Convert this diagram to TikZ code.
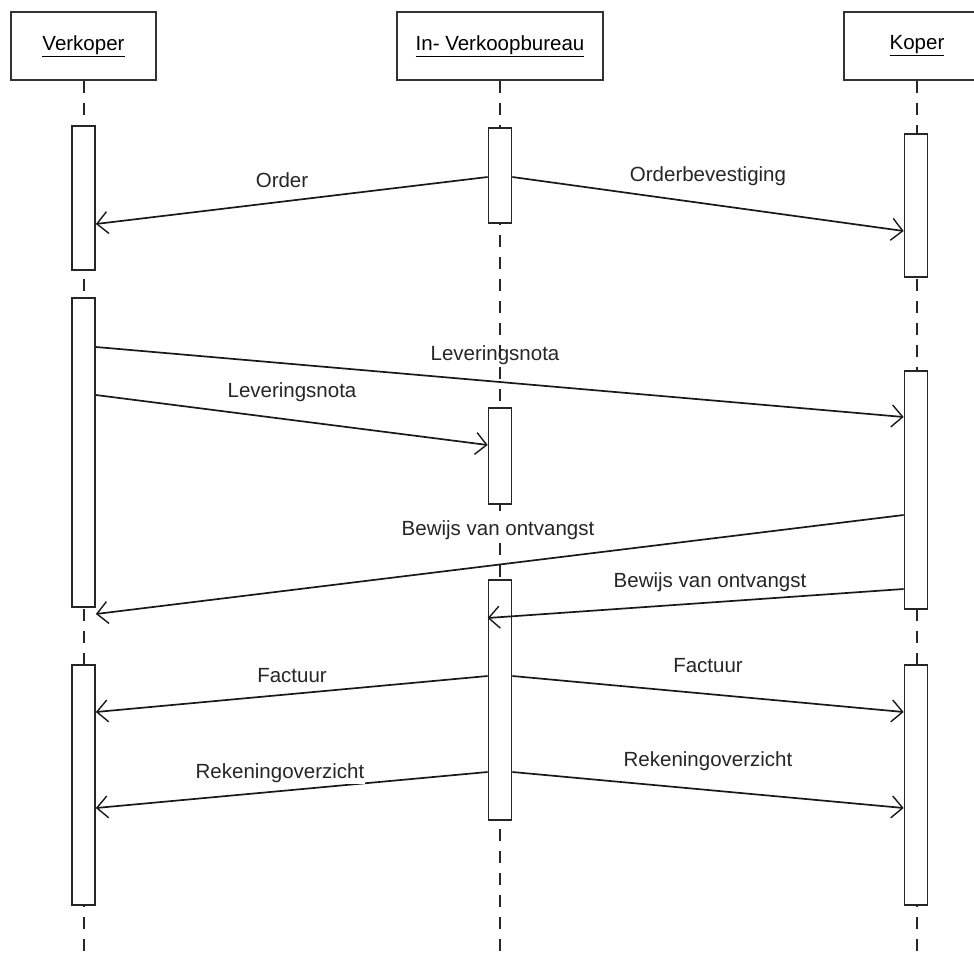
\documentclass[tikz,border=0pt]{standalone}
\usepackage{fontspec}
\setmainfont{Liberation Sans}
\usetikzlibrary{arrows.meta}
\begin{document}
\begin{tikzpicture}[x=1pt,y=-1pt,
  head/.style={draw=black!80, line width=2.2pt, fill=white, minimum height=68pt, inner sep=0pt, font=\fontsize{20.5}{22}\selectfont},
  act/.style={draw=black!85, line width=1.7pt, fill=white, minimum width=23pt, inner sep=0pt},
  life/.style={draw=black!85, line width=2pt, dash pattern=on 12pt off 10pt},
  msg/.style={draw=black!90, line width=1.7pt, -{Straight Barb[length=11pt,width=22pt,line width=1.4pt]}},
  lbl/.style={font=\fontsize{20.5}{22}\selectfont, text=black!85, inner sep=1pt}]
\useasboundingbox[fill=white] (0,0) rectangle (974,953);
% headers
\node[head, minimum width=145pt] (V) at (83.5,46) {\underline{Verkoper}};
\node[head, minimum width=206pt] (B) at (500,46) {\underline{In- Verkoopbureau}};
\node[head, minimum width=146pt] (K) at (917,46) {\underline{Koper}};
% lifelines
\coordinate (Vend) at (83.5,953);
\coordinate (Bend) at (500,953);
\coordinate (Kend) at (917,953);
\draw[life] (V.south) -- (Vend);
\draw[life] (B.south) -- (Bend);
\draw[life] (K.south) -- (Kend);
% activations
\node[act, minimum height=144pt] (V1) at (83.5,198) {};
\node[act, minimum height=309pt] (V2) at (83.5,452.5) {};
\node[act, minimum height=240pt] (V3) at (83.5,785) {};
\node[act, minimum height=95pt] (B1) at (500,175.5) {};
\node[act, minimum height=96pt] (B2) at (500,456) {};
\node[act, minimum height=240pt] (B3) at (500,700) {};
\node[act, minimum height=143pt] (K1) at (916,205.5) {};
\node[act, minimum height=238pt] (K2) at (916,490) {};
\node[act, minimum height=240pt] (K3) at (916,785) {};
% messages
\draw[msg] (B1.west |- 0,177) -- (V1.east |- 0,224);
\draw[msg] (B1.east |- 0,177) -- (K1.west |- 0,231);
\draw[msg] (V2.east |- 0,347) -- (K2.west |- 0,417);
\draw[msg] (V2.east |- 0,395) -- (B2.west |- 0,445);
\draw[msg] (K2.west |- 0,515) -- (V2.east |- 0,614);
\draw[msg] (K2.west |- 0,589) -- (B3.west |- 0,618);
\draw[msg] (B3.west |- 0,676) -- (V3.east |- 0,712);
\draw[msg] (B3.east |- 0,676) -- (K3.west |- 0,712);
\draw[msg] (B3.west |- 0,772) -- (V3.east |- 0,808);
\draw[msg] (B3.east |- 0,772) -- (K3.west |- 0,808);
% labels
\node[lbl] (l1) at (282,180) {Order};
\node[lbl] (l2) at (708,176) {Orderbevestiging};
\node[lbl] (l3) at (495,355) {Leveringsnota};
\node[lbl] (l4) at (292,392) {Leveringsnota};
\node[lbl, fill=white] (l5) at (498,530) {Bewijs van ontvangst};
\node[lbl] (l6) at (710,582) {Bewijs van ontvangst};
\node[lbl] (l7) at (292,676) {Factuur};
\node[lbl] (l8) at (708,666) {Factuur};
\node[lbl, fill=white] (l9) at (280,773) {Rekeningoverzicht};
\node[lbl] (l10) at (708,761) {Rekeningoverzicht};
\end{tikzpicture}
\end{document}
